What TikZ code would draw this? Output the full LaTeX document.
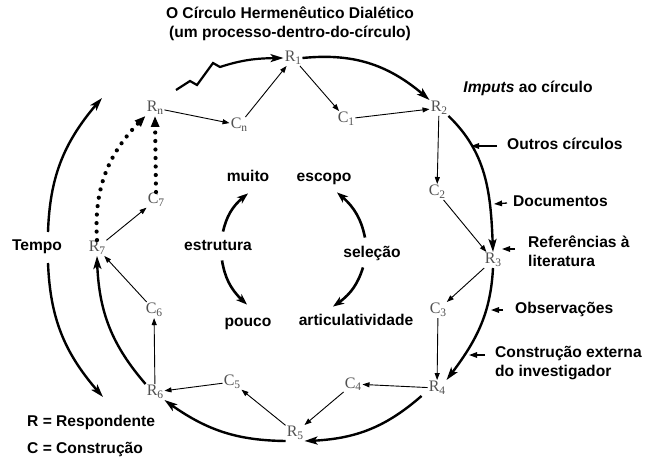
\documentclass[tikz,border=0pt]{standalone}
\usepackage{fontspec}
\setmainfont{Liberation Sans}
\newfontfamily\serifRC{Liberation Serif}
\usetikzlibrary{arrows.meta,bending}
\newcommand{\RC}[2]{{\serifRC\fontsize{16}{16}\selectfont #1\kern-0.3pt\raisebox{-2.6pt}{\fontsize{11.5}{11.5}\selectfont #2}}}
\begin{document}
\begin{tikzpicture}[x=1pt,y=1pt,
  lbl/.style={font=\fontsize{15.6}{18.5}\selectfont\bfseries, inner sep=0pt},
  one/.style={text height=11.2pt, text depth=3.3pt},
  rc/.style={inner sep=1.2pt, text=black!68},
  thinarr/.style={line width=0.9pt, -{Triangle[length=7pt,width=5pt]}},
  bigarc/.style={line width=2.4pt, -{Stealth[length=13pt,width=8pt,inset=3pt]}},
  dotarc/.style={line width=4.2pt, line cap=round, dash pattern=on 0pt off 8.5pt, -{Triangle[length=11pt,width=8pt]}},
  innerarc/.style={line width=2.6pt, -{Stealth[length=11pt,width=8pt,inset=3pt]}},
  inarr/.style={line width=1.3pt, -{Triangle[length=8pt,width=5.5pt]}},
]
\useasboundingbox[fill=white] (0,0) rectangle (647,-460);

% R and C nodes
\node[rc] (R1) at (293,-58) {\RC{R}{1}};
\node[rc] (C1) at (346,-119) {\RC{C}{1}};
\node[rc] (R2) at (439,-108) {\RC{R}{2}};
\node[rc] (C2) at (437,-192) {\RC{C}{2}};
\node[rc] (R3) at (493,-260) {\RC{R}{3}};
\node[rc] (C3) at (438,-310) {\RC{C}{3}};
\node[rc] (R4) at (437,-388) {\RC{R}{4}};
\node[rc] (C4) at (353,-384) {\RC{C}{4}};
\node[rc] (R5) at (295,-433) {\RC{R}{5}};
\node[rc] (C5) at (232,-382) {\RC{C}{5}};
\node[rc] (R6) at (155,-392) {\RC{R}{6}};
\node[rc] (C6) at (154,-310) {\RC{C}{6}};
\node[rc] (R7) at (97,-248) {\RC{R}{7}};
\node[rc] (C7) at (156,-200) {\RC{C}{7}};
\node[rc] (Rn) at (155,-108) {\RC{R}{n}};
\node[rc] (Cn) at (239,-125) {\RC{C}{n}};

% labels
\node[lbl, align=center] (title) at (290,-24) {O Círculo Hermenêutico Dialético\\(um processo-dentro-do-círculo)};
\node[lbl, one] (imputs) at (528,-89) {\textit{Imputs} ao círculo};
\node[lbl, one, anchor=west] (outros) at (507,-146) {Outros círculos};
\node[lbl, one, anchor=west] (docs) at (513,-203) {Documentos};
\node[lbl, anchor=west, align=left] (refs) at (528,-251) {Referências à\\literatura};
\node[lbl, one, anchor=west] (obs) at (515,-310) {Observações};
\node[lbl, anchor=west, align=left] (constr) at (495,-363) {Construção externa\\do investigador};
\node[lbl, one] (tempo) at (37,-247) {Tempo};
\node[lbl, one, anchor=west] (legR) at (27,-423) {R = Respondente};
\node[lbl, one, anchor=west] (legC) at (27,-450) {C = Construção};

\node[lbl, one] (muito) at (248,-178) {muito};
\node[lbl, one] (escopo) at (324,-178) {escopo};
\node[lbl, one] (estrutura) at (218,-247) {estrutura};
\node[lbl, one] (selecao) at (372,-254) {seleção};
\node[lbl, one] (pouco) at (248,-323) {pouco};
\node[lbl, one] (artic) at (356,-322) {articulatividade};

% thin arrows
\draw[thinarr] (Rn) -- (Cn);
\draw[thinarr] (Cn) -- (R1);
\draw[thinarr] (R1) -- (C1);
\draw[thinarr] (C1) -- (R2);
\draw[thinarr] (R2) -- (C2);
\draw[thinarr] (C2) -- (R3);
\draw[thinarr] (R3) -- (C3);
\draw[thinarr] (C3) -- (R4);
\draw[thinarr] (R4) -- (C4);
\draw[thinarr] (C4) -- (R5);
\draw[thinarr] (R5) -- (C5);
\draw[thinarr] (C5) -- (R6);
\draw[thinarr] (R6) -- (C6);
\draw[thinarr] (C6) -- (R7);
\draw[thinarr] (R7) -- (C7);

% thick outer arcs
\coordinate (z0) at (176,-90);
\draw[line width=2.2pt, line join=miter, -{Stealth[length=13pt,width=8pt,inset=3pt]}]
  (z0) -- (190,-81) -- (197,-85) -- (213,-63) -- (220,-67) to[out=18,in=180] (R1.west);
\draw[bigarc] (R1.east) to[bend left=24] (R2.north west);
\draw[bigarc] (R2.south east) to[out=-44,in=92] (R3.north);
\draw[bigarc] (R3.south) to[out=-93,in=52] (R4.north east);
\draw[bigarc] ([xshift=-6pt]R4.south west) to[bend left=20] (R5.south east);
\draw[bigarc] (R5.south west) to[bend left=18] (R6.south east);
\draw[bigarc] (R6.north west) to[bend left=20] (R7.south);
\draw[dotarc] (R7.north) to[bend left=25] (Rn.south west);
\draw[dotarc] (C7.north) -- (Rn.south);

% time arrows
\coordinate (tA) at (48,-232);
\coordinate (tB) at (102,-98);
\coordinate (tC) at (48,-263);
\coordinate (tD) at (103,-397);
\draw[bigarc] (tA) to[bend left=20] (tB);
\draw[bigarc] (tC) to[bend right=20] (tD);

% input arrows
\coordinate (aO) at (471,-146);
\coordinate (aD) at (494,-204);
\coordinate (aR) at (502,-249);
\coordinate (aB) at (491,-310);
\coordinate (aC) at (469,-355);
\draw[inarr] ([xshift=-10pt]outros.west) -- (aO);
\draw[inarr] ([xshift=-6pt]docs.west) -- (aD);
\draw[inarr] ([xshift=-13pt,yshift=2pt]refs.west) -- (aR);
\draw[inarr] ([xshift=-12pt]obs.west) -- (aB);
\draw[inarr] ([xshift=-10pt,yshift=8pt]constr.west) -- (aC);

% inner cycle
\draw[innerarc] ([shift={(5,8)}]estrutura.north) to[bend left=20] ([shift={(0,-8)}]muito.south);
\draw[innerarc] ([shift={(4,-6)}]estrutura.south) to[bend right=20] ([shift={(-1,11)}]pouco.north);
\draw[innerarc] ([shift={(-7,9)}]selecao.north) to[bend right=20] ([shift={(13,-7)}]escopo.south);
\draw[innerarc] ([shift={(-9,-6)}]selecao.south) to[bend left=20] ([shift={(-23,8)}]artic.north);
\end{tikzpicture}
\end{document}
